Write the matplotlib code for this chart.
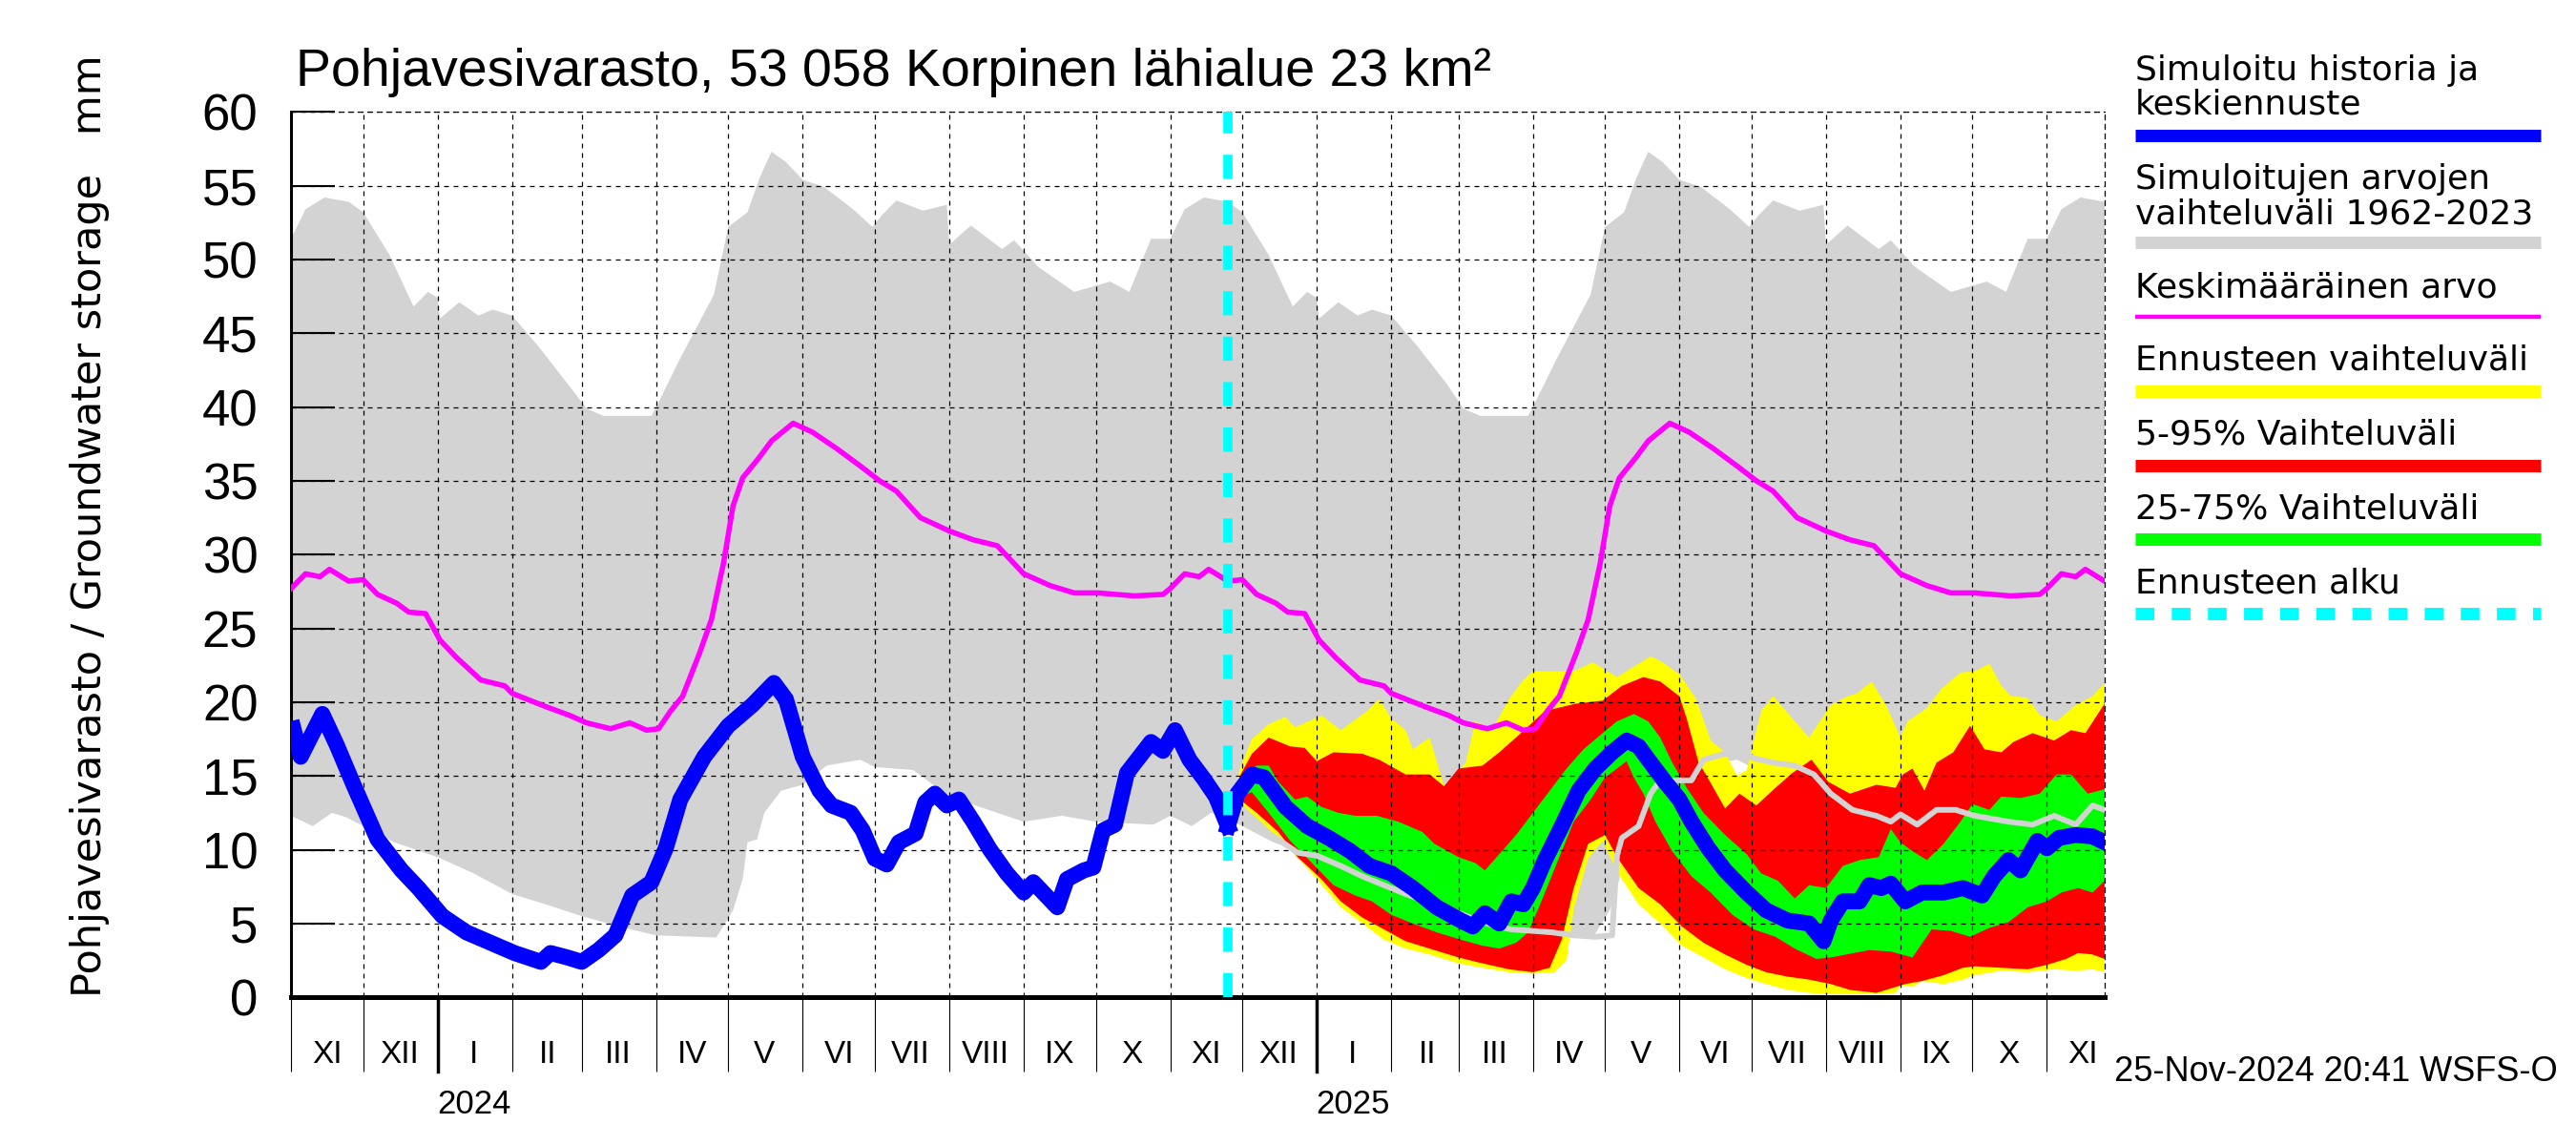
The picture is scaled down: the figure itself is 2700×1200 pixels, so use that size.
import matplotlib
matplotlib.use('Agg')
import matplotlib.pyplot as plt
import matplotlib.dates as mdates
from matplotlib.lines import Line2D
from matplotlib.ticker import NullFormatter, FuncFormatter
import numpy as np
import pandas as pd

NARROW = ['Liberation Sans', 'DejaVu Sans']
WIDE = ['DejaVu Sans']
plt.rcParams['font.family'] = NARROW

# --- climatology 1962-2023 (same every year, month-day from November on) ---
clim_hi_md = ['11-01', '11-07', '11-15', '11-25', '12-01', '12-12', '12-22', '12-28', '01-01', '01-02',
              '01-10', '01-18', '01-24', '02-01', '02-12', '02-24', '03-03', '03-10', '03-30', '04-01',
              '04-11', '04-25', '05-01', '05-09', '05-14', '05-19', '05-25', '06-01', '06-10', '06-22',
              '06-30', '07-04', '07-10', '07-21', '07-31', '08-01', '08-10', '08-23', '08-28', '09-07',
              '09-22', '10-07', '10-15', '10-24']
clim_hi = [51.4, 53.4, 54.2, 53.9, 53.2, 50.3, 46.8, 47.8, 47.4, 46.0,
           47.1, 46.2, 46.6, 46.2, 44.1, 41.6, 39.9, 39.4, 39.4, 40.0,
           43.3, 47.6, 52.2, 53.2, 55.5, 57.3, 56.6, 55.4, 54.9, 53.4,
           52.2, 53.0, 54.0, 53.3, 53.7, 51.0, 52.3, 50.7, 51.3, 49.5,
           47.8, 48.5, 47.8, 51.4]

clim_lo_md = ['11-01', '11-10', '11-18', '11-24', '12-01', '12-14', '01-01', '01-16', '02-01', '02-15',
              '03-01', '03-19', '04-01', '04-26', '05-03', '05-07', '05-09', '05-13', '05-16', '05-23',
              '06-01', '06-11', '06-25', '07-01', '07-17', '08-01', '09-01', '09-17', '10-01', '10-25']
clim_lo = [12.3, 11.6, 12.5, 12.2, 11.6, 10.5, 9.5, 8.4, 7.0, 6.3,
           5.5, 4.7, 4.2, 4.05, 5.9, 8.0, 10.5, 10.7, 12.5, 14.0,
           14.4, 15.7, 16.1, 15.6, 15.4, 13.6, 11.9, 12.3, 11.9, 11.7]

clim_mean_md = ['11-01', '11-07', '11-13', '11-17', '11-25', '12-01', '12-07', '12-15', '12-20', '12-27',
                '12-31', '01-02', '01-09', '01-19', '01-29', '02-01', '02-15', '02-25', '03-03', '03-13',
                '03-21', '03-28', '04-02', '04-07', '04-12', '04-19', '04-24', '04-29', '05-03', '05-07',
                '05-14', '05-19', '05-28', '06-05', '06-15', '06-25', '07-03', '07-10', '07-20', '08-01',
                '08-11', '08-21', '09-01', '09-12', '09-22', '10-02', '10-17', '10-29']
clim_mean = [27.7, 28.7, 28.5, 29.0, 28.2, 28.3, 27.3, 26.7, 26.1, 26.0,
             24.8, 24.2, 23.0, 21.5, 21.1, 20.6, 19.7, 19.1, 18.6, 18.2,
             18.6, 18.1, 18.2, 19.4, 20.4, 23.3, 25.6, 29.4, 33.3, 35.2,
             36.6, 37.7, 38.9, 38.3, 37.2, 36.0, 35.0, 34.3, 32.5, 31.6,
             31.0, 30.6, 28.7, 27.9, 27.4, 27.4, 27.2, 27.3]

# --- simulated history ---
hist_dates = ['2023-11-02', '2023-11-05', '2023-11-14', '2023-11-20', '2023-11-27', '2023-12-07', '2023-12-17',
              '2023-12-24', '2024-01-03', '2024-01-13', '2024-01-23', '2024-02-02', '2024-02-13', '2024-02-17',
              '2024-02-24', '2024-03-01', '2024-03-08', '2024-03-15', '2024-03-22', '2024-03-30', '2024-04-05',
              '2024-04-11', '2024-04-21', '2024-05-01', '2024-05-11', '2024-05-20', '2024-05-25', '2024-06-01',
              '2024-06-08', '2024-06-13', '2024-06-21', '2024-06-26', '2024-07-01', '2024-07-06', '2024-07-11',
              '2024-07-18', '2024-07-22', '2024-07-26', '2024-07-31', '2024-08-05', '2024-08-11', '2024-08-18',
              '2024-08-25', '2024-09-01', '2024-09-05', '2024-09-15', '2024-09-19', '2024-09-26', '2024-09-30',
              '2024-10-04', '2024-10-09', '2024-10-14', '2024-10-24', '2024-10-29', '2024-11-03', '2024-11-09',
              '2024-11-15', '2024-11-20', '2024-11-25']
hist_vals = [18.2, 16.3, 19.2, 17.1, 14.4, 10.7, 8.6,
             7.4, 5.5, 4.4, 3.7, 3.0, 2.4, 3.0,
             2.7, 2.4, 3.2, 4.2, 6.9, 7.8, 10.1,
             13.4, 16.3, 18.4, 19.8, 21.3, 20.2, 16.3,
             14.0, 13.0, 12.5, 11.3, 9.4, 9.0, 10.5,
             11.1, 13.2, 13.8, 13.0, 13.4, 11.9, 10.0,
             8.4, 7.1, 7.8, 6.1, 8.0, 8.6, 8.8,
             11.3, 11.7, 15.2, 17.3, 16.7, 18.1, 16.1,
             14.8, 13.6, 11.6]

forecast_start = '2024-11-25'

# --- forecast median ---
fc_dates = ['2024-11-25', '2024-11-29', '2024-12-05', '2024-12-10', '2024-12-19', '2024-12-28', '2025-01-06',
            '2025-01-15', '2025-01-23', '2025-02-01', '2025-02-10', '2025-02-20', '2025-03-02', '2025-03-07',
            '2025-03-12', '2025-03-18', '2025-03-23', '2025-03-28', '2025-04-01', '2025-04-06', '2025-04-13',
            '2025-04-20', '2025-04-27', '2025-05-04', '2025-05-10', '2025-05-15', '2025-05-20', '2025-05-26',
            '2025-06-01', '2025-06-06', '2025-06-13', '2025-06-20', '2025-06-29', '2025-07-07', '2025-07-16',
            '2025-07-25', '2025-07-31', '2025-08-03', '2025-08-08', '2025-08-15', '2025-08-19', '2025-08-24',
            '2025-08-28', '2025-09-03', '2025-09-10', '2025-09-19', '2025-09-27', '2025-10-05', '2025-10-10',
            '2025-10-16', '2025-10-21', '2025-10-28', '2025-11-01', '2025-11-06', '2025-11-13', '2025-11-20',
            '2025-11-25']
fc_mean = [11.6, 13.8, 15.1, 14.9, 12.9, 11.6, 10.8,
           9.9, 8.9, 8.4, 7.4, 6.1, 5.2, 4.8,
           5.7, 5.0, 6.5, 6.3, 7.4, 9.3, 11.6,
           14.0, 15.5, 16.6, 17.4, 17.0, 15.9, 14.6,
           13.4, 11.9, 10.1, 8.6, 7.1, 5.9, 5.2,
           5.0, 3.8, 5.2, 6.5, 6.5, 7.6, 7.4,
           7.7, 6.5, 7.1, 7.1, 7.4, 6.9, 8.2,
           9.3, 8.6, 10.6, 10.1, 10.8, 11.0, 10.9,
           10.5]

# --- forecast ranges ---
yel_hi_d = ['2024-11-25', '2024-11-30', '2024-12-05', '2024-12-12', '2024-12-19', '2024-12-23', '2025-01-03',
            '2025-01-11', '2025-01-22', '2025-01-27', '2025-02-01', '2025-02-07', '2025-02-10', '2025-02-17',
            '2025-02-23', '2025-03-04', '2025-03-08', '2025-03-15', '2025-03-22', '2025-03-28', '2025-04-01',
            '2025-04-18', '2025-04-26', '2025-05-06', '2025-05-15', '2025-05-20', '2025-05-24', '2025-06-01',
            '2025-06-08', '2025-06-14', '2025-06-20', '2025-06-25', '2025-06-29', '2025-07-05', '2025-07-10',
            '2025-07-19', '2025-07-25', '2025-08-03', '2025-08-10', '2025-08-14', '2025-08-20', '2025-08-26',
            '2025-09-01', '2025-09-04', '2025-09-12', '2025-09-18', '2025-09-26', '2025-10-02', '2025-10-08',
            '2025-10-13', '2025-10-17', '2025-10-24', '2025-10-29', '2025-11-05', '2025-11-13', '2025-11-20',
            '2025-11-25']
yel_hi = [11.6, 15.5, 17.5, 18.5, 19.0, 18.3, 19.1,
          18.1, 19.4, 20.2, 18.9, 18.1, 16.8, 17.6,
          14.3, 15.9, 18.7, 18.1, 20.2, 21.5, 22.1,
          22.1, 22.7, 21.7, 22.6, 23.1, 22.8, 21.9,
          20.2, 17.4, 16.6, 15.0, 15.4, 19.4, 20.4,
          18.7, 17.6, 19.8, 20.4, 20.6, 21.4, 19.8,
          17.6, 18.7, 19.6, 20.9, 22.0, 22.1, 22.6,
          21.1, 20.4, 20.3, 19.1, 18.7, 19.8, 20.4,
          21.3]

yel_lo_d = ['2024-11-25', '2024-11-30', '2024-12-16', '2024-12-30', '2025-01-11', '2025-01-20', '2025-01-29',
            '2025-02-07', '2025-02-17', '2025-03-01', '2025-03-11', '2025-03-22', '2025-04-01', '2025-04-10',
            '2025-04-15', '2025-04-18', '2025-04-24', '2025-04-30', '2025-05-06', '2025-05-15', '2025-05-24',
            '2025-06-02', '2025-06-11', '2025-06-20', '2025-06-29', '2025-07-07', '2025-07-16', '2025-07-25',
            '2025-08-03', '2025-08-16', '2025-08-30', '2025-09-01', '2025-09-06', '2025-09-10', '2025-09-19',
            '2025-09-27', '2025-10-02', '2025-10-13', '2025-10-24', '2025-11-04', '2025-11-13', '2025-11-20',
            '2025-11-25']
yel_lo = [11.6, 13.2, 10.8, 8.4, 6.1, 5.0, 3.9,
          3.3, 2.9, 2.3, 2.0, 1.7, 1.6, 1.7,
          2.5, 6.0, 9.4, 10.6, 8.5, 6.3, 5.0,
          3.5, 2.7, 1.9, 1.3, 0.9, 0.5, 0.3,
          0.2, 0.2, 0.3, 0.8, 0.7, 1.1, 0.9,
          1.2, 1.5, 1.8, 1.7, 1.9, 1.8, 1.9,
          1.7]

red_hi_d = ['2024-11-25', '2024-11-30', '2024-12-05', '2024-12-12', '2024-12-21', '2024-12-27', '2025-01-01',
            '2025-01-08', '2025-01-20', '2025-01-27', '2025-02-07', '2025-02-17', '2025-02-23', '2025-03-01',
            '2025-03-11', '2025-03-18', '2025-03-27', '2025-04-06', '2025-04-19', '2025-04-30', '2025-05-08',
            '2025-05-17', '2025-05-24', '2025-06-01', '2025-06-04', '2025-06-09', '2025-06-12', '2025-06-20',
            '2025-06-26', '2025-07-03', '2025-07-11', '2025-07-18', '2025-07-26', '2025-08-02', '2025-08-11',
            '2025-08-22', '2025-08-30', '2025-09-02', '2025-09-06', '2025-09-11', '2025-09-16', '2025-09-23',
            '2025-09-30', '2025-10-06', '2025-10-13', '2025-10-18', '2025-10-26', '2025-11-04', '2025-11-11',
            '2025-11-17', '2025-11-25']
red_hi = [11.6, 15.0, 16.5, 17.6, 17.0, 16.9, 16.0,
          16.6, 16.5, 16.1, 15.1, 15.1, 14.3, 15.5,
          15.7, 16.6, 17.9, 19.4, 19.9, 20.1, 21.1,
          21.7, 21.4, 20.4, 18.9, 15.9, 15.1, 12.8,
          13.8, 13.0, 14.2, 15.2, 16.1, 14.6, 13.8,
          14.4, 14.2, 15.1, 15.5, 14.0, 15.9, 16.6,
          18.4, 16.8, 16.6, 17.3, 17.9, 17.4, 18.1,
          17.9, 19.9]

red_lo_d = ['2024-11-25', '2024-11-30', '2024-12-07', '2024-12-16', '2024-12-24', '2025-01-03', '2025-01-11',
            '2025-01-20', '2025-01-29', '2025-02-07', '2025-02-17', '2025-03-01', '2025-03-11', '2025-03-22',
            '2025-04-01', '2025-04-08', '2025-04-13', '2025-04-18', '2025-04-24', '2025-05-01', '2025-05-06',
            '2025-05-15', '2025-05-24', '2025-06-02', '2025-06-11', '2025-06-20', '2025-06-29', '2025-07-07',
            '2025-07-16', '2025-07-25', '2025-08-03', '2025-08-11', '2025-08-22', '2025-08-30', '2025-09-03',
            '2025-09-10', '2025-09-19', '2025-09-27', '2025-10-02', '2025-10-13', '2025-10-24', '2025-11-01',
            '2025-11-09', '2025-11-14', '2025-11-20', '2025-11-25']
red_lo = [11.6, 13.4, 12.5, 11.2, 9.5, 8.0, 6.5,
          5.4, 4.6, 3.8, 3.3, 2.7, 2.3, 1.9,
          1.7, 2.0, 3.9, 7.4, 10.4, 11.0, 9.5,
          7.4, 6.3, 4.8, 3.7, 2.9, 2.2, 1.7,
          1.4, 1.2, 0.9, 0.5, 0.3, 0.7, 0.9,
          1.1, 1.5, 2.0, 2.1, 2.0, 1.9, 2.2,
          2.6, 3.0, 2.9, 2.6]

grn_hi_d = ['2024-11-25', '2024-11-30', '2024-12-07', '2024-12-12', '2024-12-16', '2024-12-23', '2024-12-28',
            '2025-01-03', '2025-01-10', '2025-01-17', '2025-01-26', '2025-02-04', '2025-02-14', '2025-02-19',
            '2025-03-01', '2025-03-08', '2025-03-12', '2025-03-18', '2025-03-25', '2025-04-01', '2025-04-08',
            '2025-04-15', '2025-04-22', '2025-04-30', '2025-05-06', '2025-05-13', '2025-05-19', '2025-05-24',
            '2025-05-29', '2025-06-04', '2025-06-11', '2025-06-20', '2025-06-29', '2025-07-05', '2025-07-12',
            '2025-07-19', '2025-07-25', '2025-08-01', '2025-08-08', '2025-08-15', '2025-08-23', '2025-08-28',
            '2025-09-01', '2025-09-06', '2025-09-12', '2025-09-19', '2025-09-26', '2025-10-01', '2025-10-08',
            '2025-10-13', '2025-10-21', '2025-10-29', '2025-11-05', '2025-11-11', '2025-11-18', '2025-11-25']
grn_hi = [11.6, 14.8, 15.7, 15.7, 14.6, 13.4, 13.6,
          12.9, 12.5, 12.3, 12.3, 11.9, 11.2, 10.4,
          9.5, 9.1, 8.6, 9.7, 11.0, 12.5, 14.0,
          15.5, 16.8, 17.9, 18.7, 19.2, 18.7, 17.6,
          15.9, 14.2, 12.5, 11.0, 9.7, 8.4, 7.9,
          6.7, 7.6, 7.4, 8.9, 9.3, 9.5, 11.4,
          10.5, 9.9, 9.3, 10.4, 11.9, 13.1, 12.7,
          13.6, 13.5, 13.8, 15.1, 15.1, 13.8, 14.1]

grn_lo_d = ['2024-11-25', '2024-11-30', '2024-12-05', '2024-12-12', '2024-12-21', '2024-12-30', '2025-01-08',
            '2025-01-17', '2025-01-24', '2025-02-01', '2025-02-10', '2025-02-20', '2025-03-02', '2025-03-11',
            '2025-03-18', '2025-03-25', '2025-03-30', '2025-04-04', '2025-04-11', '2025-04-18', '2025-04-25',
            '2025-05-01', '2025-05-06', '2025-05-10', '2025-05-13', '2025-05-17', '2025-05-22', '2025-05-29',
            '2025-06-06', '2025-06-14', '2025-06-23', '2025-07-02', '2025-07-11', '2025-07-19', '2025-07-28',
            '2025-08-03', '2025-08-19', '2025-08-28', '2025-09-06', '2025-09-14', '2025-09-22', '2025-09-30',
            '2025-10-08', '2025-10-16', '2025-10-24', '2025-11-01', '2025-11-07', '2025-11-14', '2025-11-20',
            '2025-11-25']
grn_lo = [11.6, 13.6, 13.9, 12.5, 10.6, 9.1, 7.6,
          6.9, 6.5, 5.6, 5.0, 4.4, 3.9, 3.5,
          3.3, 3.7, 4.4, 6.3, 9.1, 11.9, 13.4,
          14.9, 15.5, 16.0, 14.9, 13.8, 11.9, 9.9,
          8.2, 7.1, 5.6, 4.6, 4.1, 3.3, 2.6,
          2.7, 3.2, 3.1, 2.7, 4.6, 4.5, 4.1,
          4.7, 5.1, 6.1, 6.5, 7.1, 7.4, 7.1,
          7.9]

# --- previous-year trace shown in the forecast period ---
prev_d = ['2024-11-25', '2024-11-29', '2024-12-07', '2024-12-15', '2024-12-24', '2025-01-01', '2025-01-11',
          '2025-01-20', '2025-01-29', '2025-02-07', '2025-02-16', '2025-02-26', '2025-03-06', '2025-03-15',
          '2025-03-23', '2025-04-01', '2025-04-09', '2025-04-18', '2025-04-27', '2025-05-04', '2025-05-06',
          '2025-05-08', '2025-05-15', '2025-05-20', '2025-05-24', '2025-06-06', '2025-06-11', '2025-06-20',
          '2025-06-27', '2025-07-02', '2025-07-10', '2025-07-19', '2025-07-27', '2025-08-03', '2025-08-12',
          '2025-08-22', '2025-08-28', '2025-09-01', '2025-09-08', '2025-09-16', '2025-09-24', '2025-10-02',
          '2025-10-16', '2025-10-26', '2025-11-04', '2025-11-13', '2025-11-20', '2025-11-25']
prev = [11.6, 12.3, 11.6, 10.8, 9.8, 9.6, 8.9,
        8.2, 7.6, 7.0, 6.5, 5.9, 5.4, 4.9,
        4.6, 4.5, 4.4, 4.2, 4.1, 4.2, 9.6,
        10.8, 11.6, 13.8, 14.7, 14.7, 16.1, 16.5,
        16.6, 16.2, 15.9, 15.7, 15.1, 13.8, 12.7,
        12.3, 11.9, 12.4, 11.7, 12.7, 12.7, 12.3,
        11.9, 11.7, 12.3, 11.7, 13.0, 12.7]

ROMAN = ['I', 'II', 'III', 'IV', 'V', 'VI', 'VII', 'VIII', 'IX', 'X', 'XI', 'XII']


def to_num(ds):
    return mdates.date2num(pd.to_datetime(ds))


def cycle(md, vals, years=(2023, 2024, 2025)):
    dates, out = [], []
    for y in years:
        for s, v in zip(md, vals):
            yy = y if int(s[:2]) >= 11 else y + 1
            dates.append(f'{yy}-{s}')
            out.append(v)
    return to_num(dates), np.array(out)


def band(ax, d_hi, v_hi, d_lo, v_lo, color, z):
    x = np.concatenate([to_num(d_hi), to_num(d_lo)[::-1]])
    y = np.concatenate([v_hi, np.array(v_lo)[::-1]])
    ax.fill(x, y, color=color, lw=0, zorder=z)


fig = plt.figure(figsize=(27, 12), dpi=100)
ax = fig.add_axes([0.113, 0.129, 0.704, 0.7733])

hx, hv = cycle(clim_hi_md, clim_hi)
lx, lv = cycle(clim_lo_md, clim_lo)
ax.fill(np.concatenate([hx, lx[::-1]]), np.concatenate([hv, lv[::-1]]), color='#d3d3d3', lw=0, zorder=1)

band(ax, yel_hi_d, yel_hi, yel_lo_d, yel_lo, '#ffff00', 1.1)
band(ax, red_hi_d, red_hi, red_lo_d, red_lo, '#ff0000', 1.2)
band(ax, grn_hi_d, grn_hi, grn_lo_d, grn_lo, '#00ff00', 1.3)

mx, mv = cycle(clim_mean_md, clim_mean)
ax.plot(mx, mv, color='#ff00ff', lw=4, zorder=3)
ax.plot(to_num(prev_d), prev, color='#d3d3d3', lw=4.3, zorder=3.2)
ax.plot(to_num(hist_dates), hist_vals, color='#0000ff', lw=12, zorder=4)
ax.plot(to_num(fc_dates), fc_mean, color='#0000ff', lw=12, zorder=4)
ax.axvline(to_num([forecast_start])[0], color='#00ffff', lw=7, linestyle=(0, (2.6, 2.3)), zorder=5)

ax.set_xlim(to_num(['2023-11-01', '2025-11-25']))
ax.set_ylim(0, 60)
ax.set_axisbelow(False)

ax.xaxis.set_major_locator(mdates.MonthLocator())
ax.xaxis.set_major_formatter(NullFormatter())
ax.xaxis.set_minor_locator(mdates.MonthLocator(bymonthday=16))
ax.xaxis.set_minor_formatter(FuncFormatter(lambda x, p: ROMAN[mdates.num2date(x).month - 1]))
ax.tick_params(axis='x', which='major', direction='out', length=56, width=0.8)
ax.tick_params(axis='x', which='minor', length=0, pad=32, labelsize=24)
ax.set_yticks(range(0, 61, 5))
ax.tick_params(axis='y', direction='in', length=33, width=1.5, pad=25, labelsize=38)
ax.grid(True, which='major', color='black', lw=0.9, linestyle=(0, (4, 4)))

for side in ['top', 'right']:
    ax.spines[side].set_linestyle((0, (4, 4)))
    ax.spines[side].set_linewidth(0.9)
ax.spines['left'].set_linewidth(2.2)
ax.spines['bottom'].set_linewidth(3.6)

xt = ax.get_xaxis_transform()
for yr in ['2024', '2025']:
    jx = to_num([yr + '-01-01'])[0]
    ax.plot([jx, jx], [0, -0.084], transform=xt, color='black', lw=2.5, clip_on=False)
    ax.text(to_num([yr + '-01-16'])[0], -0.1207, yr, transform=xt, ha='center', va='center', fontsize=25)

fig.text(0.1148, 0.925, 'Pohjavesivarasto, 53 058 Korpinen lähialue 23 km²', fontsize=40, va='baseline')
fig.text(0.035, 0.129, 'Pohjavesivarasto / Groundwater storage   mm', rotation=90, ha='center', va='bottom',
         fontsize=31, family=WIDE)
fig.text(0.8207, 0.064, '25-Nov-2024 20:41 WSFS-O', fontsize=26, va='center', ha='left')

# legend on the right
lx0, lx1 = 0.8289, 0.9863
texts = [('Simuloitu historia ja', 84), ('keskiennuste', 120), ('Simuloitujen arvojen', 198),
         ('vaihteluväli 1962-2023', 234), ('Keskimääräinen arvo', 312), ('Ennusteen vaihteluväli', 388),
         ('5-95% Vaihteluväli', 466), ('25-75% Vaihteluväli', 544), ('Ennusteen alku', 622)]
for t, yb in texts:
    fig.text(lx0, 1 - yb / 1200, t, fontsize=26, family=WIDE, va='baseline', ha='left')
bars = [('#0000ff', 141.5, 9.4, '-'), ('#d3d3d3', 254, 9.4, '-'), ('#ff00ff', 332, 3.2, '-'),
        ('#ffff00', 410, 9.4, '-'), ('#ff0000', 487.5, 9.4, '-'), ('#00ff00', 565, 9.4, '-'),
        ('#00ffff', 643, 9.4, (0, (1.5, 1.4)))]
for c, yb, w, ls in bars:
    fig.add_artist(Line2D([lx0, lx1], [1 - yb / 1200] * 2, color=c, lw=w, linestyle=ls,
                          solid_capstyle='butt', dash_capstyle='butt', transform=fig.transFigure))

fig.savefig('out.png', dpi=100)
